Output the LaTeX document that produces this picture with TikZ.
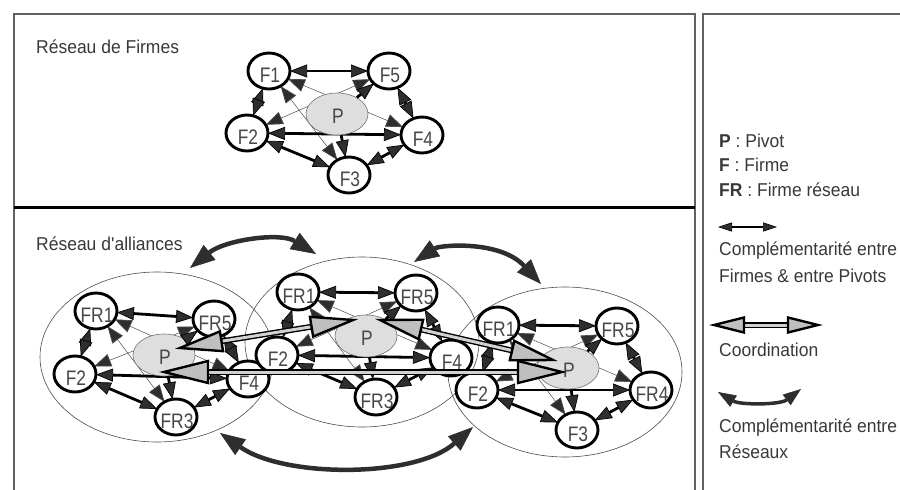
\documentclass[tikz,border=0pt]{standalone}
\usepackage{fontspec}
\setmainfont[FakeStretch=0.94]{Liberation Sans}
\newfontfamily\nodefont[FakeStretch=0.83]{Liberation Sans}
\usetikzlibrary{arrows.meta,calc,shapes.geometric,backgrounds}
\newcommand\fnode[4]{%
  \node[fn] (#1) at (#2,#3) {};
  \node[ntxt] (#1-t) at (#2+1,#3+4) {#4};}
\newcommand\pnode[3]{%
  \node[pv] (#1) at (#2,#3) {};
  \node[ntxt] (#1-t) at (#2+1,#3+2) {P};}
\newcommand\netlinks[1]{%
  \begin{scope}[on background layer]
    \draw[thn,<->] (#1-1) -- (#1-4);
    \draw[thn,<->] (#1-5) -- (#1-2);
    \draw[thn,<->] (#1-1) -- (#1-3);
    \draw[lk,<->] (#1-2) -- (#1-4);
  \end{scope}
  \draw[lk,<->] (#1-1) -- (#1-5);
  \draw[lk,<->] (#1-1) -- (#1-2);
  \draw[lk,<->] (#1-5) -- (#1-4);
  \draw[lk,<->] (#1-2) -- (#1-3);
  \draw[lk,<->] (#1-3) -- (#1-4);
  \draw[lk,->] (#1-P) -- (#1-5);
  \draw[lk,->] (#1-P) -- (#1-3);}
\newcommand\coordarrow[4]{%
  \draw[cshaft] ($(#1)!#3!(#2)$) -- ($(#2)!#3!(#1)$);
  \filldraw[chead] (#1) -- ($(#1)!#3!(#2)!#4!90:(#2)$) -- ($(#1)!#3!(#2)!#4!-90:(#2)$) -- cycle;
  \filldraw[chead] (#2) -- ($(#2)!#3!(#1)!#4!90:(#1)$) -- ($(#2)!#3!(#1)!#4!-90:(#1)$) -- cycle;}
\begin{document}
\begin{tikzpicture}[x=1pt,y=-1pt,
  fn/.style={ellipse, draw=black, line width=2.9pt, fill=white, minimum width=42pt, minimum height=36pt, inner sep=0pt, outer sep=0pt},
  pv/.style={ellipse, draw=black!55, line width=0.6pt, fill=black!13, minimum width=62pt, minimum height=42pt, inner sep=0pt},
  txt/.style={font=\fontsize{18.6}{22}\selectfont, text=black!78, inner sep=0pt},
  ntxt/.style={font=\nodefont\fontsize{21}{24}\selectfont, text=black!72, inner sep=0pt},
  ltxt/.style={txt, anchor=west},
  lk/.style={line width=2.8pt, draw=black},
  thn/.style={line width=0.5pt, draw=black!70},
  env/.style={ellipse, draw=black!70, line width=0.6pt, minimum width=234pt, minimum height=170pt, inner sep=0pt},
  frame/.style={line width=2pt, draw=black!62},
  bc/.style={line width=4.5pt, draw=black!82, arrows={Triangle[length=25pt,width=19pt,fill=black!82,line width=0.6pt]-Triangle[length=25pt,width=19pt,fill=black!82,line width=0.6pt]}},
  cshaft/.style={draw=black, line width=1.4pt, double=black!18, double distance=3pt},
  chead/.style={draw=black, line width=2.4pt, fill=black!25, line join=miter},
  >={Triangle[length=17pt,width=13pt,fill=black!82,line width=0.7pt]}]
\useasboundingbox (0,0) rectangle (900,490);
% panels
\draw[frame] (14,500) -- (14,14) -- (695,14) -- (695,500);
\draw[frame] (703,500) -- (703,14) -- (910,14);
\draw[line width=3pt] (14,207) -- (695,207);
\node[ltxt] (title1) at (36,47) {Réseau de Firmes};
\node[ltxt] (title2) at (36,244) {Réseau d\textquotesingle alliances};
% ---- top network
\fnode{t-1}{269}{71}{F1}
\fnode{t-5}{389}{71}{F5}
\fnode{t-2}{247}{133}{F2}
\fnode{t-4}{422}{135}{F4}
\fnode{t-3}{349}{175}{F3}
\pnode{t-P}{337}{114}
\netlinks{t}
% ---- bottom: big ellipses
\node[env] (encA) at (157,357) {};
\node[env] (encB) at (362,342) {};
\node[env] (encC) at (565,372) {};
% network A
\fnode{a-1}{96}{311}{FR1}
\fnode{a-5}{214}{319}{FR5}
\fnode{a-2}{75}{374}{F2}
\fnode{a-4}{248}{379}{F4}
\fnode{a-3}{176}{417}{FR3}
\pnode{a-P}{164}{355}
\netlinks{a}
% network B
\fnode{b-1}{298}{292}{FR1}
\fnode{b-5}{416}{293}{FR5}
\fnode{b-2}{277}{355}{F2}
\fnode{b-4}{451}{358}{F4}
\fnode{b-3}{376}{397}{FR3}
\pnode{b-P}{366}{336}
\netlinks{b}
% network C
\fnode{c-1}{498}{325}{FR1}
\fnode{c-5}{617}{326}{FR5}
\fnode{c-2}{477}{390}{F2}
\fnode{c-4}{651}{390}{FR4}
\fnode{c-3}{577}{430}{F3}
\pnode{c-P}{568}{368}
\netlinks{c}
% coordination arrows
\coordinate (kab1) at (180,348);
\coordinate (kab2) at (353,320);
\coordinate (kbc1) at (380,320);
\coordinate (kbc2) at (553,360);
\coordinate (kac1) at (164,372);
\coordinate (kac2) at (562,372);
\coordarrow{kab1}{kab2}{42pt}{10pt}
\coordarrow{kbc1}{kbc2}{42pt}{10pt}
\coordarrow{kac1}{kac2}{44pt}{11pt}
% network complementarity arrows
\coordinate (ca1) at (190,268);
\coordinate (ca2) at (316,254);
\coordinate (cb1) at (414,262);
\coordinate (cb2) at (541,284);
\coordinate (cc1) at (220,433);
\coordinate (cc2) at (473,427);
\draw[bc] (ca1) .. controls (225,240) and (280,232) .. (ca2);
\draw[bc] (cb1) .. controls (440,245) and (500,240) .. (cb2);
\draw[bc] (cc1) .. controls (285,478) and (415,478) .. (cc2);
% legend
\node[ltxt] (lg1) at (719,141) {\textbf{P} : Pivot};
\node[ltxt] (lg2) at (719,165) {\textbf{F} : Firme};
\node[ltxt] (lg3) at (719,190) {\textbf{FR} : Firme réseau};
\coordinate (la1) at (718,227);
\coordinate (la2) at (777,227);
\draw[lk,line width=2.2pt,arrows={Triangle[length=14pt,width=9pt,fill=black!82,line width=0.6pt]-Triangle[length=14pt,width=9pt,fill=black!82,line width=0.6pt]}] (la1) -- (la2);
\node[ltxt] (lg4) at (719,251) {Complémentarité entre};
\node[ltxt] (lg5) at (719,276) {Firmes \& entre Pivots};
\coordinate (lb1) at (714,325);
\coordinate (lb2) at (818,325);
\coordarrow{lb1}{lb2}{30pt}{7.5pt}
\node[ltxt] (lg6) at (719,350) {Coordination};
\coordinate (lc1) at (718,392);
\coordinate (lc2) at (801,389);
\draw[bc,line width=3.5pt,arrows={Triangle[length=18pt,width=13pt,fill=black!82,line width=0.6pt]-Triangle[length=18pt,width=13pt,fill=black!82,line width=0.6pt]}] (lc1) .. controls (740,405) and (780,405) .. (lc2);
\node[ltxt] (lg7) at (719,428) {Complémentarité entre};
\node[ltxt] (lg8) at (719,452) {Réseaux};
\end{tikzpicture}
\end{document}
